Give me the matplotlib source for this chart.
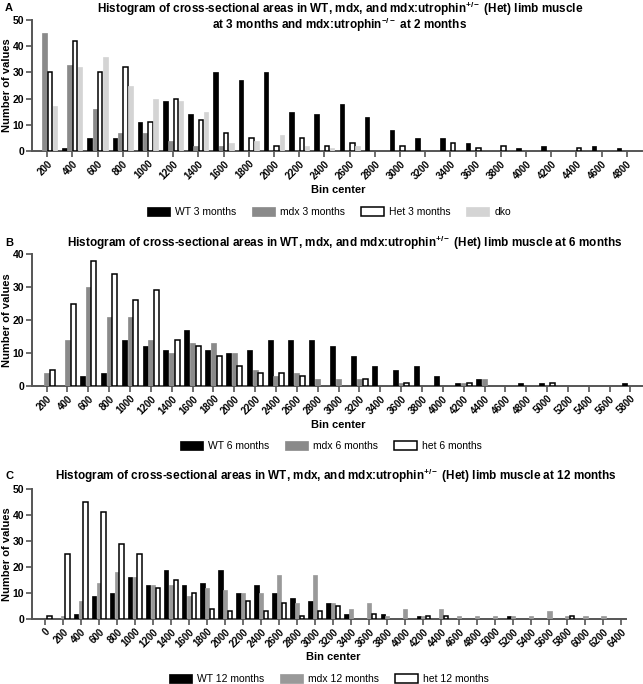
import numpy as np
import matplotlib.pyplot as plt

plt.rcParams['font.family'] = ['Liberation Sans', 'DejaVu Sans']
plt.rcParams['mathtext.fontset'] = 'custom'
plt.rcParams['mathtext.rm'] = 'Liberation Sans:bold'
plt.rcParams['mathtext.bf'] = 'Liberation Sans:bold'
plt.rcParams['mathtext.it'] = 'Liberation Sans:bold'
plt.rcParams['mathtext.default'] = 'rm'

# ---- panel A: 3 months (+ dko at 2 months)
bins_a = [200, 400, 600, 800, 1000, 1200, 1400, 1600, 1800, 2000, 2200, 2400,
          2600, 2800, 3000, 3200, 3400, 3600, 3800, 4000, 4200, 4400, 4600, 4800]
wt_a = [0, 1, 5, 5, 11, 19, 14, 30, 27, 30, 15, 14, 18, 13, 8, 5, 5, 3, 0, 1, 2, 0, 2, 1]
mdx_a = [45, 33, 16, 7, 7, 4, 2, 2, 0, 0, 0, 0, 0, 0, 0, 0, 0, 0, 0, 0, 0, 0, 0, 0]
het_a = [30, 42, 30, 32, 11, 20, 12, 7, 5, 2, 5, 2, 3, 0, 2, 0, 3, 1, 2, 0, 0, 1, 0, 0]
dko_a = [17, 32, 36, 25, 20, 19, 15, 3, 4, 6, 2, 1, 2, 0, 0, 0, 0, 0, 0, 0, 0, 0, 0, 0]

# ---- panel B: 6 months
bins_b = [200, 400, 600, 800, 1000, 1200, 1400, 1600, 1800, 2000, 2200, 2400, 2600,
          2800, 3000, 3200, 3400, 3600, 3800, 4000, 4200, 4400, 4600, 4800, 5000,
          5200, 5400, 5600, 5800]
wt_b = [0, 0, 3, 4, 14, 12, 11, 17, 11, 10, 11, 14, 14, 14, 12, 9, 6, 5, 6, 3, 1, 2,
        0, 1, 1, 0, 0, 0, 1]
mdx_b = [4, 14, 30, 21, 21, 14, 10, 13, 13, 10, 5, 3, 4, 2, 2, 2, 0, 1, 0, 0, 1, 2,
         0, 0, 0, 0, 0, 0, 0]
het_b = [5, 25, 38, 34, 26, 29, 14, 12, 9, 6, 4, 4, 3, 0, 0, 2, 0, 1, 0, 0, 1, 0,
         0, 0, 1, 0, 0, 0, 0]

# ---- panel C: 12 months
bins_c = [0, 200, 400, 600, 800, 1000, 1200, 1400, 1600, 1800, 2000, 2200, 2400,
          2600, 2800, 3000, 3200, 3400, 3600, 3800, 4000, 4200, 4400, 4600, 4800,
          5000, 5200, 5400, 5600, 5800, 6000, 6200, 6400]
wt_c = [0, 0, 2, 9, 10, 16, 13, 19, 13, 14, 19, 10, 13, 10, 8, 7, 6, 2, 0, 2, 0, 1,
        0, 0, 0, 0, 1, 0, 0, 0, 0, 0, 0]
mdx_c = [0, 1, 7, 14, 18, 16, 13, 13, 9, 12, 11, 10, 10, 17, 6, 17, 6, 4, 6, 1, 4, 1,
         4, 1, 1, 1, 1, 1, 3, 1, 1, 1, 0]
het_c = [1, 25, 45, 41, 29, 25, 12, 15, 10, 4, 3, 7, 3, 6, 1, 3, 5, 0, 2, 0, 0, 1,
         1, 0, 0, 0, 0, 0, 0, 1, 0, 0, 0]

W, H = 643, 684
fig = plt.figure(figsize=(W / 100, H / 100), dpi=100)

AX = '#555555'


def px_axes(left, right, top, bottom):
    return fig.add_axes([left / W, 1 - bottom / H, (right - left) / W, (bottom - top) / H])


def panel(ax, bins, series, width, offsets, ymax, ystep, xlim):
    x = np.arange(len(bins))
    for (vals, face, edge, lw), off in zip(series, offsets):
        v = np.array(vals)
        m = v > 0
        ax.bar(x[m] + off, v[m], width, color=face, edgecolor=edge, linewidth=lw, zorder=3)
    ax.set_xlim(*xlim)
    ax.set_ylim(0, ymax)
    ax.set_yticks(range(0, ymax + 1, ystep))
    ax.set_xticks(x)
    ax.set_xticklabels([str(b) for b in bins], rotation=45, ha='right',
                       rotation_mode='anchor', fontsize=7, fontweight='bold')
    for lab in ax.get_yticklabels():
        lab.set_fontsize(7.5)
        lab.set_fontweight('bold')
    for s in ['top', 'right']:
        ax.spines[s].set_visible(False)
    for s in ['left', 'bottom']:
        ax.spines[s].set_color(AX)
        ax.spines[s].set_linewidth(1.4)
    ax.tick_params(axis='both', colors=AX, width=1.2, length=4, pad=1.5, labelcolor='black')
    ax.set_ylabel('Number of values', fontsize=8, fontweight='bold')
    # put the label anchor about 12 px from the left edge of the figure
    ax.yaxis.set_label_coords((12 - 32) / (ax.get_position().width * W), 0.5)


def legend(ax, labels, x, y):
    handles = ax.containers
    fig.legend(handles, labels, loc='center', bbox_to_anchor=(x / W, 1 - y / H),
               ncol=len(labels), frameon=False, fontsize=7.5, handlelength=2.2,
               handleheight=0.9, columnspacing=1.5, handletextpad=0.5)


title_kw = dict(ha='center', va='center', fontsize=8.5, fontweight='bold')
het = r'mdx:utrophin$^{+/-}$ (Het) limb muscle'

# A
axa = px_axes(32, 642, 20, 151)
panel(axa, bins_a,
      [(wt_a, 'black', 'black', 0.5), (mdx_a, '#8a8a8a', '#8a8a8a', 0.5),
       (het_a, 'white', 'black', 1.1), (dko_a, '#d4d4d4', '#d4d4d4', 0.5)],
      0.18, [-0.31, -0.105, 0.105, 0.31], 50, 10, (-0.6, 23.6))
fig.text(340 / W, 1 - 9 / H, 'Histogram of cross-sectional areas in WT, mdx, and ' + het, **title_kw)
fig.text(340 / W, 1 - 25 / H, r'at 3 months and mdx:utrophin$^{-/-}$ at 2 months', **title_kw)
fig.text(5 / W, 1 - 8 / H, 'A', ha='left', va='center', fontsize=8, fontweight='bold')
fig.text(338 / W, 1 - 190 / H, 'Bin center', ha='center', va='center', fontsize=8, fontweight='bold')
legend(axa, ['WT 3 months', 'mdx 3 months', 'Het 3 months', 'dko'], 329, 212)

# B
axb = px_axes(32, 643, 254, 386)
panel(axb, bins_b,
      [(wt_b, 'black', 'black', 0.5), (mdx_b, '#8a8a8a', '#8a8a8a', 0.5),
       (het_b, 'white', 'black', 1.1)],
      0.24, [-0.28, 0.0, 0.27], 40, 10, (-0.7, 28.6))
fig.text(345 / W, 1 - 243 / H, 'Histogram of cross-sectional areas in WT, mdx, and ' + het + ' at 6 months', **title_kw)
fig.text(5 / W, 1 - 243 / H, 'B', ha='left', va='center', fontsize=8, fontweight='bold')
fig.text(338 / W, 1 - 425 / H, 'Bin center', ha='center', va='center', fontsize=8, fontweight='bold')
legend(axb, ['WT 6 months', 'mdx 6 months', 'het 6 months'], 331, 446)

# C
axc = px_axes(32, 626, 489, 619)
panel(axc, bins_c,
      [(wt_c, 'black', 'black', 0.5), (mdx_c, '#999999', '#999999', 0.5),
       (het_c, 'white', 'black', 1.1)],
      0.23, [-0.26, 0.0, 0.25], 50, 10, (-0.72, 32.25))
fig.text(336 / W, 1 - 476 / H, 'Histogram of cross-sectional areas in WT, mdx, and ' + het + ' at 12 months', **title_kw)
fig.text(5 / W, 1 - 476 / H, 'C', ha='left', va='center', fontsize=8, fontweight='bold')
fig.text(333 / W, 1 - 657 / H, 'Bin center', ha='center', va='center', fontsize=8, fontweight='bold')
legend(axc, ['WT 12 months', 'mdx 12 months', 'het 12 months'], 329, 679)

fig.savefig('out.png', dpi=100)
